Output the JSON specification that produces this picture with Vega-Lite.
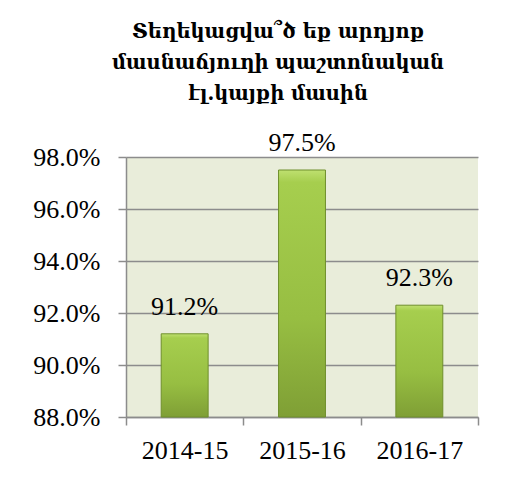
{
  "$schema": "https://vega.github.io/schema/vega-lite/v6.json",
  "width": 352,
  "height": 260,
  "autosize": {"type": "none"},
  "padding": {"left": 126, "top": 157, "right": 29, "bottom": 68},
  "background": "white",
  "title": {
    "text": ["Տեղեկացվա՞ծ եք արդյոք", "մասնաճյուղի պաշտոնական", "էլ.կայքի մասին"],
    "anchor": "middle",
    "frame": "group",
    "dx": -24,
    "offset": 26,
    "font": "DejaVu Serif",
    "fontSize": 19.5,
    "fontWeight": "bold",
    "lineHeight": 31,
    "color": "black"
  },
  "data": {
    "values": [
      {"year": "2014-15", "pct": 0.912},
      {"year": "2015-16", "pct": 0.975},
      {"year": "2016-17", "pct": 0.923}
    ]
  },
  "config": {
    "view": {"fill": "#e9edda", "stroke": null},
    "axis": {
      "labelFont": "Liberation Serif",
      "labelFontSize": 26,
      "labelFontWeight": "normal",
      "labelColor": "black",
      "domainColor": "#8c8c8c",
      "tickColor": "#8c8c8c",
      "gridColor": "#8c8c8c",
      "domainWidth": 1.5,
      "tickWidth": 1.5,
      "gridWidth": 1.5,
      "tickSize": 8,
      "title": null
    }
  },
  "encoding": {
    "x": {
      "field": "year",
      "type": "nominal",
      "scale": {"paddingInner": 0, "paddingOuter": 0},
      "axis": {"labelAngle": 0, "tickBand": "extent", "labelPadding": 12, "grid": false}
    }
  },
  "layer": [
    {
      "mark": {
        "type": "bar",
        "width": {"band": 0.4},
        "stroke": "#6f8f2c",
        "strokeWidth": 1,
        "color": {
          "gradient": "linear",
          "x1": 0, "y1": 0, "x2": 0, "y2": 1,
          "stops": [
            {"offset": 0, "color": "#bfe070"},
            {"offset": 0.05, "color": "#a6ce4e"},
            {"offset": 0.6, "color": "#97be42"},
            {"offset": 1, "color": "#7f9f35"}
          ]
        }
      },
      "encoding": {
        "y": {
          "field": "pct",
          "type": "quantitative",
          "scale": {"domain": [0.88, 0.98], "zero": false, "clamp": true},
          "axis": {"format": ".1%", "values": [0.88, 0.9, 0.92, 0.94, 0.96, 0.98], "labelPadding": 18, "grid": true}
        },
        "y2": {"datum": 0.88}
      }
    },
    {
      "mark": {"type": "text", "baseline": "alphabetic", "dy": -19, "font": "Liberation Serif", "fontSize": 26, "color": "black"},
      "encoding": {
        "y": {"field": "pct", "type": "quantitative"},
        "text": {"field": "pct", "type": "quantitative", "format": ".1%"}
      }
    }
  ]
}
